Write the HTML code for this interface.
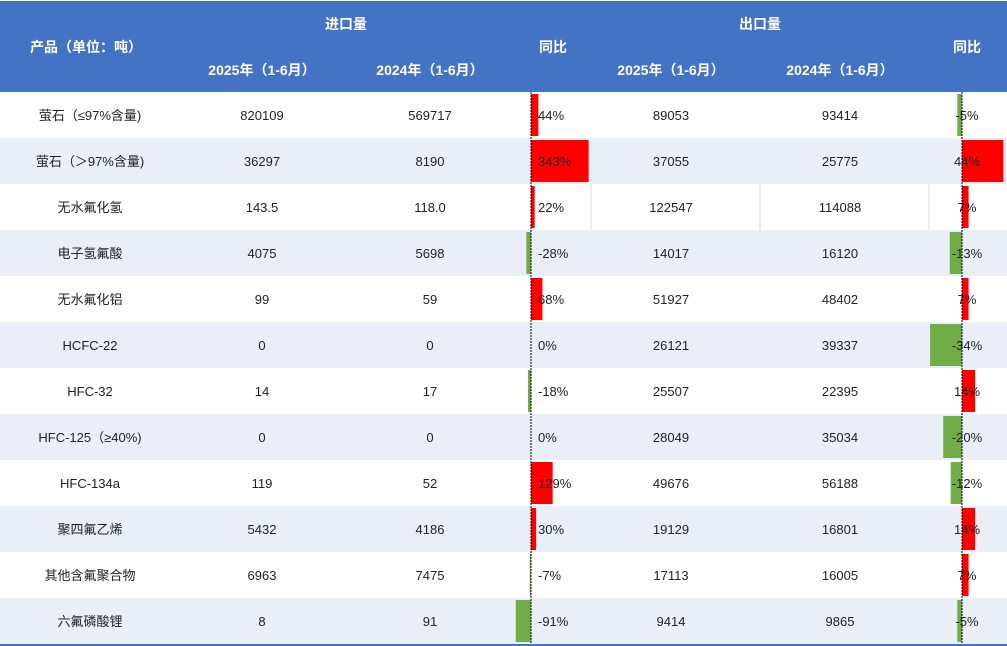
<!DOCTYPE html>
<html><head><meta charset="utf-8"><style>
html,body{margin:0;padding:0;background:#fff;}
svg{display:block;font-family:"Liberation Sans","Noto Sans CJK SC",sans-serif;}
</style></head><body>
<svg id="t" width="1007" height="646" viewBox="0 0 1007 646">
<rect x="0" y="1" width="1007" height="91" fill="#4472C4"/>
<g fill="#fff" font-weight="bold" font-size="14" text-anchor="middle">
<text x="346" y="29">进口量</text>
<text x="760" y="29">出口量</text>
<text x="86" y="52">产品（单位：吨）</text>
<text x="262" y="75">2025年（1-6月）</text>
<text x="430" y="75">2024年（1-6月）</text>
<text x="553" y="52">同比</text>
<text x="671" y="75">2025年（1-6月）</text>
<text x="840" y="75">2024年（1-6月）</text>
<text x="967" y="52">同比</text>
</g>
<g id="rows"></g>
<line x1="531" y1="92" x2="531" y2="644" stroke="#000" stroke-dasharray="2,1"/>
<line x1="962" y1="92" x2="962" y2="644" stroke="#000" stroke-dasharray="2,1"/>
<rect x="0" y="644" width="1007" height="2" fill="#4472C4"/>
</svg>
<script>
const products=["萤石（≤97%含量)","萤石（＞97%含量)","无水氟化氢","电子氢氟酸","无水氟化铝","HCFC-22","HFC-32","HFC-125（≥40%)","HFC-134a","聚四氟乙烯","其他含氟聚合物","六氟磷酸锂"];
const import2025=["820109","36297","143.5","4075","99","0","14","0","119","5432","6963","8"];
const import2024=["569717","8190","118.0","5698","59","0","17","0","52","4186","7475","91"];
const importYoy=[44,343,22,-28,68,0,-18,0,129,30,-7,-91];
const export2025=["89053","37055","122547","14017","51927","26121","25507","28049","49676","19129","17113","9414"];
const export2024=["93414","25775","114088","16120","48402","39337","22395","35034","56188","16801","16005","9865"];
const exportYoy=[-5,44,7,-13,7,-34,14,-20,-12,14,7,-5];
const NS="http://www.w3.org/2000/svg";
const g=document.getElementById('rows');
const rowY=i=>92+46*i, rowH=46;
const impX=v=>531+v*0.168, expX=v=>962+v*0.94;
function mk(tag,attrs){const e=document.createElementNS(NS,tag);for(const k in attrs)e.setAttribute(k,attrs[k]);g.appendChild(e);return e;}
function txt(x,y,s,anchor){const e=mk('text',{x:x,y:y,'font-size':13,fill:'#222','text-anchor':anchor});e.textContent=s;return e;}
products.forEach((p,i)=>{
  const y=rowY(i);
  const bg=mk('rect',{x:0,y:y,width:1007,height:rowH,fill:i%2?'#E9EEF7':'#fff'});
  
  
  const ty=y+28;
  const a=txt(90,ty,p,'middle');
  
  
  const b=txt(262,ty,import2025[i],'middle');
  
  
  const c=txt(430,ty,import2024[i],'middle');
  
  
  const v=importYoy[i];
  const x0=Math.min(impX(0),impX(v)), w=Math.abs(impX(v)-impX(0));
  const bar=mk('rect',{x:x0,y:y+2,width:w,height:rowH-4,fill:v>=0?'#FF0000':'#70AD47'});
  
  
  const d=txt(538,ty,v+'%','start');
  
  
  const e=txt(671,ty,export2025[i],'middle');
  
  
  const f=txt(840,ty,export2024[i],'middle');
  
  
  const u=exportYoy[i];
  const x1=Math.min(expX(0),expX(u)), w1=Math.abs(expX(u)-expX(0));
  const bar2=mk('rect',{x:x1,y:y+2,width:w1,height:rowH-4,fill:u>=0?'#FF0000':'#70AD47'});
  
  
  const h=txt(967,ty,u+'%','middle');
  
  
});
[591,760,929].forEach(x=>{
  const l=mk('line',{x1:x,y1:rowY(2),x2:x,y2:rowY(3),stroke:'#ddd'});
  
  
});
</script>
</body></html>
